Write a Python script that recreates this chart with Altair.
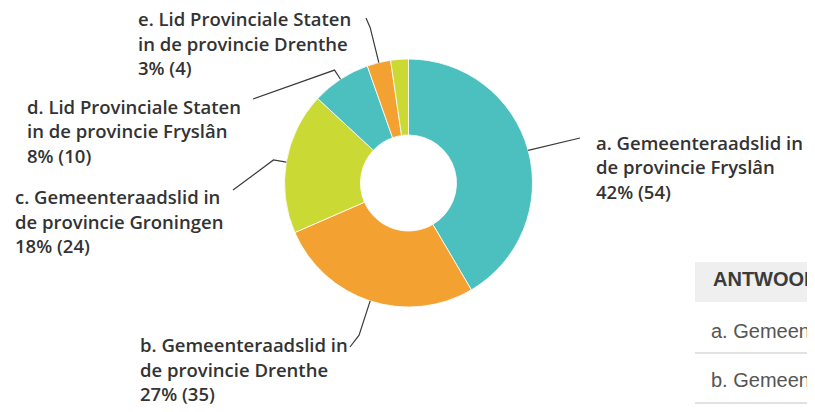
import math
import altair as alt
import pandas as pd

# ---- data ----
categories = [
    "a. Gemeenteraadslid in de provincie Fryslân",
    "b. Gemeenteraadslid in de provincie Drenthe",
    "c. Gemeenteraadslid in de provincie Groningen",
    "d. Lid Provinciale Staten in de provincie Fryslân",
    "e. Lid Provinciale Staten in de provincie Drenthe",
    "f. Lid Provinciale Staten in de provincie Groningen",
]
counts = [54, 35, 24, 10, 4, 3]
label_line1 = ["a. Gemeenteraadslid in", "b. Gemeenteraadslid in", "c. Gemeenteraadslid in",
               "d. Lid Provinciale Staten", "e. Lid Provinciale Staten", ""]
label_line2 = ["de provincie Fryslân", "de provincie Drenthe", "de provincie Groningen",
               "in de provincie Fryslân", "in de provincie Drenthe", ""]
show_label = [True, True, True, True, True, False]
slice_colors = ["#4cbfbf", "#f3a131", "#cbd935", "#4cbfbf", "#f3a131", "#cbd935"]
table_header = "ANTWOORDKEUZES"
table_rows = ["a. Gemeenteraadslid in de provincie Fryslân",
              "b. Gemeenteraadslid in de provincie Drenthe"]

# ---- layout (pixels, chart coordinates) ----
W, H = 799, 396
CX, CY = 400.5, 175.0
R_OUT, R_IN = 124, 48
# label block left x / first-line baseline, leader elbow radius, leader end point
label_pos = {
    0: dict(x=588, y=141.5, elbow=None, end=(572, 130)),
    1: dict(x=132, y=344, elbow=160, end=(342, 339)),
    2: dict(x=7, y=196, elbow=137, end=(225, 182)),
    3: dict(x=19, y=105.5, elbow=135, end=(245, 91)),
    4: dict(x=130, y=18, elbow=160, end=(358, 10)),
}

total = sum(counts)
df = pd.DataFrame({
    "category": categories,
    "count": counts,
    "order": list(range(len(categories))),
})

# label and leader data derived from the slice angles
lab_rows, lead_rows = [], []
cum = 0
for i, c in enumerate(counts):
    mid = (cum + c / 2) / total * 2 * math.pi
    cum += c
    if not show_label[i]:
        continue
    pct = round(c / total * 100)
    lp = label_pos[i]
    lab_rows.append({"x": lp["x"], "y": lp["y"],
                     "text": f"{label_line1[i]}\n{label_line2[i]}\n{pct}% ({c})"})
    pts = [(CX + R_OUT * math.sin(mid), CY - R_OUT * math.cos(mid))]
    if lp["elbow"]:
        pts.append((CX + lp["elbow"] * math.sin(mid), CY - lp["elbow"] * math.cos(mid)))
    pts.append(lp["end"])
    for j, (px, py) in enumerate(pts):
        lead_rows.append({"key": i, "idx": j, "x": px, "y": py})

lab_df = pd.DataFrame(lab_rows)
lead_df = pd.DataFrame(lead_rows)

xs = alt.Scale(domain=[0, W], nice=False, zero=False)
ys = alt.Scale(domain=[0, H], nice=False, zero=False, reverse=True)

donut = alt.Chart(df).mark_arc(innerRadius=R_IN, outerRadius=R_OUT, stroke="white", strokeWidth=0.8).encode(
    theta=alt.Theta("count:Q", stack=True),
    order=alt.Order("order:Q"),
    color=alt.Color("category:N", scale=alt.Scale(domain=categories, range=slice_colors), legend=None),
    x=alt.value(CX),
    y=alt.value(CY),
)

leaders = alt.Chart(lead_df).mark_line(color="#3a3a3a", strokeWidth=1.2).encode(
    x=alt.X("x:Q", scale=xs, axis=None),
    y=alt.Y("y:Q", scale=ys, axis=None),
    detail="key:N",
    order="idx:Q",
)

labels = alt.Chart(lab_df).mark_text(
    align="left", baseline="alphabetic", lineBreak="\n", lineHeight=24.5,
    font="Open Sans", fontSize=18.5, fontWeight=600, color="#333333",
).encode(
    x=alt.X("x:Q", scale=xs, axis=None),
    y=alt.Y("y:Q", scale=ys, axis=None),
    text="text:N",
)

# partial answer table on the right
tab_df = pd.DataFrame({"x": [687], "x2": [W], "y": [254], "y2": [294]})
header_bg = alt.Chart(tab_df).mark_rect(color="#efefef").encode(
    x=alt.X("x:Q", scale=xs, axis=None), x2="x2",
    y=alt.Y("y:Q", scale=ys, axis=None), y2="y2",
)
header_txt = alt.Chart(pd.DataFrame({"x": [705], "y": [277.7], "t": [table_header]})).mark_text(
    align="left", baseline="alphabetic", font="Liberation Sans", fontSize=20, fontWeight="bold", color="#3b3b3b",
).encode(x=alt.X("x:Q", scale=xs, axis=None), y=alt.Y("y:Q", scale=ys, axis=None), text="t:N")
rows_txt = alt.Chart(pd.DataFrame({"x": [703, 703], "y": [329.5, 379], "t": table_rows})).mark_text(
    align="left", baseline="alphabetic", font="Liberation Sans", fontSize=20, color="#555555",
).encode(x=alt.X("x:Q", scale=xs, axis=None), y=alt.Y("y:Q", scale=ys, axis=None), text="t:N")
seps = alt.Chart(pd.DataFrame({"x": [687, 687], "x2": [W, W], "y": [345, 395]})).mark_rule(
    color="#d9d9d9", strokeWidth=1.5
).encode(x=alt.X("x:Q", scale=xs, axis=None), x2="x2", y=alt.Y("y:Q", scale=ys, axis=None))

chart = alt.layer(header_bg, seps, header_txt, rows_txt, donut, leaders, labels).properties(
    width=W, height=H, padding=0, autosize=alt.AutoSizeParams(type="none"),
).configure_view(stroke=None)

chart.save("out.html", embed_options={"renderer": "svg", "actions": False})
